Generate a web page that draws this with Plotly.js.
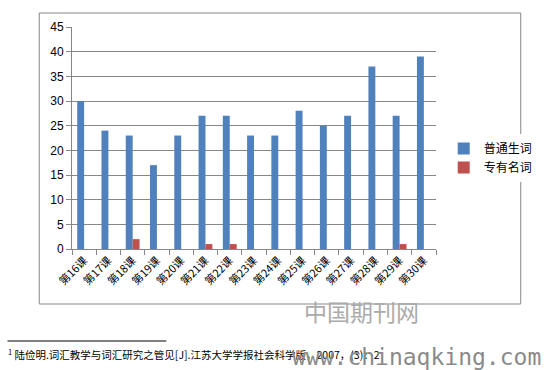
<!DOCTYPE html>
<html>
<head>
<meta charset="utf-8">
<script src="https://cdn.plot.ly/plotly-3.0.1.min.js"></script>
<style>html,body{margin:0;padding:0;background:#fff;}#chart{width:550px;height:370px;}</style>
</head>
<body>
<div id="chart"></div>
<script>
var categories = ["第16课","第17课","第18课","第19课","第20课","第21课","第22课","第23课","第24课","第25课","第26课","第27课","第28课","第29课","第30课"];
var commonWords = [30,24,23,17,23,27,27,23,23,28,25,27,37,27,39];
var properNouns = [0,0,2,0,0,1,1,0,0,0,0,0,0,1,0];
var seriesNames = ["普通生词","专有名词"];
var yTicks = [0,5,10,15,20,25,30,35,40,45];
var footnote = "陆俭明.词汇教学与词汇研究之管见[J].江苏大学学报社会科学版，2007，(3)：2";

var L = 72, R = 100, T = 27, B = 121, W = 550, H = 370;
var pw = W - L - R, ph = H - T - B;
function px(x){ return (x - L) / pw; }
function py(y){ return (H - B - y) / ph; }

var cjk = '"Noto Sans CJK SC", "Liberation Sans", sans-serif';

var data = [
  {type:'bar', name:seriesNames[0], x:categories, y:commonWords, marker:{color:'#4F81BD'}},
  {type:'bar', name:seriesNames[1], x:categories, y:properNouns, marker:{color:'#C0504D'}}
];

var layout = {
  width:W, height:H,
  margin:{l:L, r:R, t:T, b:B, pad:0},
  paper_bgcolor:'#fff', plot_bgcolor:'#fff',
  barmode:'group', bargap:0.43, bargroupgap:0,
  font:{family:cjk, size:11, color:'#000'},
  xaxis:{
    type:'category', showgrid:false, showline:true, linecolor:'#878787', linewidth:1,
    ticks:'outside', tickson:'boundaries', ticklen:5, tickcolor:'#878787',
    tickangle:-45, tickfont:{family:cjk, size:11, color:'#000'}, fixedrange:true
  },
  yaxis:{
    range:[0,45], tickvals:yTicks, showgrid:true, gridcolor:'#878787', gridwidth:1,
    showline:true, linecolor:'#878787', ticks:'outside', ticklen:5, tickcolor:'#878787',
    tickfont:{family:'"Liberation Sans", sans-serif', size:12, color:'#000'}, zeroline:false, fixedrange:true
  },
  legend:{x:px(458), y:py(134), xanchor:'left', yanchor:'top', font:{family:cjk, size:12, color:'#000'},
    tracegroupgap:0, itemwidth:30},
  showlegend:true,
  shapes:[
    {type:'rect', xref:'paper', yref:'paper', x0:px(38), x1:px(538), y0:py(304), y1:py(13), line:{color:'#878787', width:1}, layer:'below'},
    {type:'line', xref:'paper', yref:'paper', x0:px(5), x1:px(170), y0:py(341), y1:py(341), line:{color:'#000', width:1}}
  ],
  annotations:[
    {xref:'paper', yref:'paper', x:px(3), y:py(354), xanchor:'left', yanchor:'middle', showarrow:false,
      text:'<sup>1</sup> ' + footnote, font:{family:cjk, size:10.5, color:'#000'}},
    {xref:'paper', yref:'paper', x:px(311), y:py(311), xanchor:'left', yanchor:'middle', showarrow:false,
      text:'中国期刊网', font:{family:'"Noto Sans CJK SC", sans-serif', size:23, color:'#ababab'}},
    {xref:'paper', yref:'paper', x:px(298), y:py(357), xanchor:'left', yanchor:'middle', showarrow:false,
      text:'www.chinaqking.com', font:{family:'"DejaVu Sans Mono", monospace', size:23, color:'#8a8a8a'}}
  ]
};

Plotly.newPlot('chart', data, layout, {displayModeBar:false, staticPlot:true});
</script>
</body>
</html>
